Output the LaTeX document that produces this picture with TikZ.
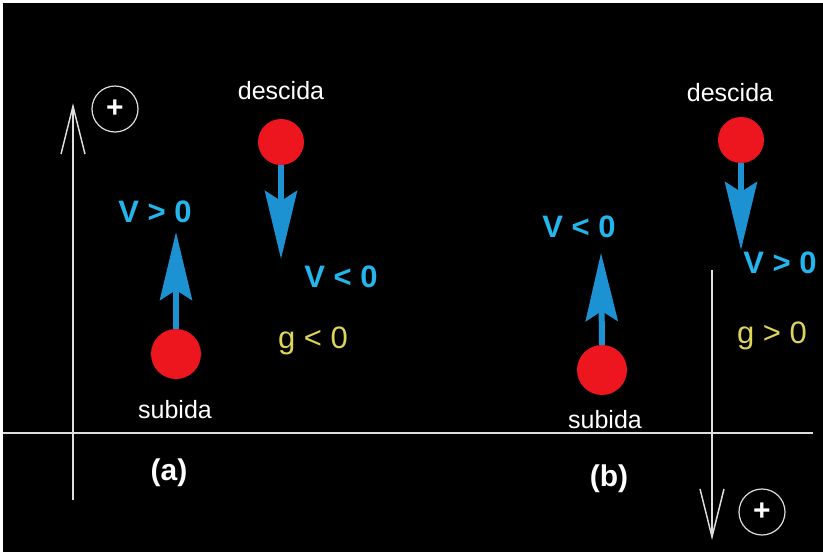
\documentclass[tikz,border=0pt]{standalone}
\usepackage{fontspec}
\setmainfont{Liberation Sans}
\usetikzlibrary{arrows.meta}
\definecolor{arrowblue}{RGB}{28,146,210}
\definecolor{vcyan}{RGB}{35,182,236}
\definecolor{gyellow}{RGB}{222,212,90}
\definecolor{ballred}{RGB}{238,22,30}
\definecolor{linegray}{RGB}{222,222,222}
\begin{document}
\begin{tikzpicture}[x=1pt,y=-1pt,
  ball/.style={circle,fill=ballred,minimum size=#1,inner sep=0pt},
  vel/.style={draw=arrowblue,line width=6pt,-{Stealth[length=68pt,width=32pt,inset=10pt]}},
  axisline/.style={draw=linegray,line width=1.5pt},
  axisarrow/.style={draw=linegray,line width=1.5pt,-{Straight Barb[length=48pt,width=24pt]}},
  vtext/.style={text=vcyan,font=\bfseries\fontsize{31}{31}\selectfont,inner sep=0pt,anchor=base},
  gtext/.style={text=gyellow,font=\fontsize{31}{31}\selectfont,inner sep=0pt,anchor=base},
  wtext/.style={text=white,font=\fontsize{25}{25}\selectfont,inner sep=0pt,anchor=base},
  ltext/.style={text=white,font=\bfseries\fontsize{30}{30}\selectfont,inner sep=0pt,anchor=base},
  pluscirc/.style={circle,draw=linegray,line width=1.2pt,minimum size=46pt,inner sep=0pt,text=white,font=\bfseries\fontsize{30}{30}\selectfont}
]
\useasboundingbox (0,0) rectangle (823,552);
\fill[white] (0,0) rectangle (823,552);
\fill[black] (3,3) rectangle (823,552);

% horizontal axis
\coordinate (hl) at (3,433);
\coordinate (hr) at (813,433);
\draw[axisline] (hl) -- (hr);

% left vertical axis (up positive)
\coordinate (aBot) at (73,500);
\coordinate (aTop) at (73,103);
\draw[axisarrow] (aBot) -- (aTop);
\node[pluscirc] (pA) at (115,109) {+};

% right vertical axis (down positive)
\coordinate (bTop) at (712,270);
\coordinate (bBot) at (712,540);
\draw[axisarrow] (bTop) -- (bBot);
\node[pluscirc] (pB) at (762,512) {+};

% (a) balls
\node[ball=50pt] (ballA1) at (176,354) {};
\node[ball=46pt] (ballA2) at (281,142) {};
\coordinate (tipA1) at (176,232);
\coordinate (tipA2) at (281,259);
\draw[vel] (ballA1.north) -- (tipA1);
\draw[vel] (ballA2.south) -- (tipA2);

% (b) balls
\node[ball=50pt] (ballB1) at (602,370) {};
\node[ball=46pt] (ballB2) at (741,140) {};
\coordinate (tipB1) at (601,253);
\coordinate (tipB2) at (741,250);
\draw[vel] (ballB1.north) -- (tipB1);
\draw[vel] (ballB2.south) -- (tipB2);

% texts (a)
\node[vtext] (vA1) at (155,222) {V > 0};
\node[vtext] (vA2) at (341,287) {V < 0};
\node[gtext] (gA) at (313,348) {g < 0};
\node[wtext] (sA) at (175,418) {subida};
\node[wtext] (dA) at (281,99) {descida};
\node[ltext] (labA) at (169,480) {(a)};

% texts (b)
\node[vtext] (vB1) at (579,237) {V < 0};
\node[vtext] (vB2) at (780,273) {V > 0};
\node[gtext] (gB) at (772,343) {g > 0};
\node[wtext] (sB) at (605,428) {subida};
\node[wtext] (dB) at (730,101) {descida};
\node[ltext] (labB) at (609,486) {(b)};
\end{tikzpicture}
\end{document}
